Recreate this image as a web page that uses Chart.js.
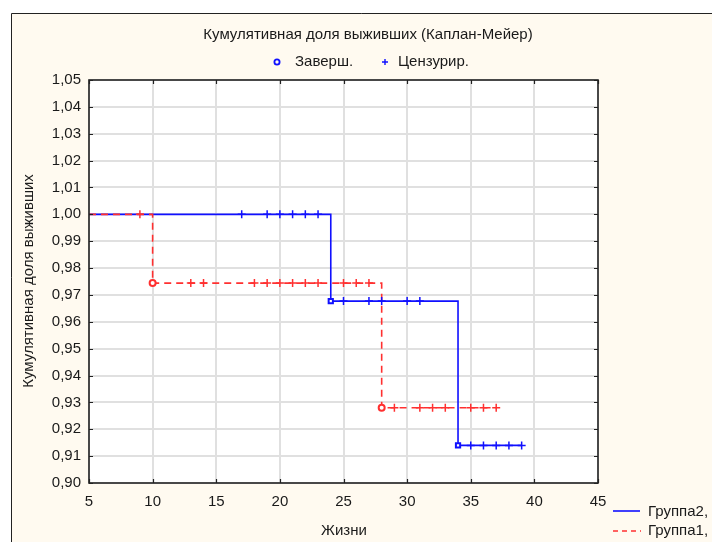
<!DOCTYPE html>
<html>
<head>
<meta charset="utf-8">
<script src="https://cdn.jsdelivr.net/npm/chart.js@4"></script>
<style>
  html, body { margin: 0; padding: 0; background: #ffffff; }
  #wrap { width: 712px; height: 542px; position: relative; }
</style>
</head>
<body>
<div id="wrap"><canvas id="c" width="712" height="542"></canvas></div>
<script>
// ---- data ----
const xTicks = [5, 10, 15, 20, 25, 30, 35, 40, 45];
const yTicks = [0.90, 0.91, 0.92, 0.93, 0.94, 0.95, 0.96, 0.97, 0.98, 0.99, 1.00, 1.01, 1.02, 1.03, 1.04, 1.05];

// Group 2 (blue, solid)
const g2StepTimes = [5, 24, 34, 39];
const g2StepSurv  = [1.0, 0.9677, 0.914, 0.914];
const g2EventTimes = [24, 34];
const g2EventSurv  = [0.9677, 0.914];
const g2CensTimes = [17, 19, 20, 21, 22, 23, 25, 27, 28, 30, 31, 35, 36, 37, 38, 39];
const g2CensSurv  = [1.0, 1.0, 1.0, 1.0, 1.0, 1.0, 0.9677, 0.9677, 0.9677, 0.9677, 0.9677, 0.914, 0.914, 0.914, 0.914, 0.914];

// Group 1 (red, dashed)
const g1StepTimes = [5, 10, 28, 37];
const g1StepSurv  = [1.0, 0.9744, 0.928, 0.928];
const g1EventTimes = [10, 28];
const g1EventSurv  = [0.9744, 0.928];
const g1CensTimes = [9, 13, 14, 18, 19, 20, 21, 22, 23, 25, 26, 27, 29, 31, 32, 33, 35, 36, 37];
const g1CensSurv  = [1.0, 0.9744, 0.9744, 0.9744, 0.9744, 0.9744, 0.9744, 0.9744, 0.9744, 0.9744, 0.9744, 0.9744, 0.928, 0.928, 0.928, 0.928, 0.928, 0.928, 0.928];

const titleText = 'Кумулятивная доля выживших (Каплан-Мейер)';
const legendEvent = 'Заверш.';
const legendCens = 'Цензурир.';
const xTitle = 'Жизни';
const yTitle = 'Кумулятивная доля выживших';
const group2Name = 'Группа2,';
const group1Name = 'Группа1,';

const BLUE = '#1010ff';
const RED = '#ff3030';
const FONT = '"Liberation Sans", Arial, sans-serif';

const pts = (xs, ys) => xs.map((x, i) => ({ x: x, y: ys[i] }));

const decor = {
  id: 'decor',
  beforeDraw(chart) {
    const ctx = chart.ctx, a = chart.chartArea;
    ctx.save();
    ctx.fillStyle = '#ffffff';
    ctx.fillRect(0, 0, chart.width, chart.height);
    ctx.fillStyle = '#fffaf0';
    ctx.fillRect(11, 13, chart.width - 11, chart.height - 13);
    ctx.strokeStyle = '#222';
    ctx.lineWidth = 1;
    ctx.beginPath();
    ctx.moveTo(11.5, chart.height);
    ctx.lineTo(11.5, 13.5);
    ctx.lineTo(chart.width, 13.5);
    ctx.stroke();
    ctx.fillStyle = '#ffffff';
    ctx.fillRect(a.left, a.top, a.right - a.left, a.bottom - a.top);
    ctx.restore();
  },
  afterDatasetsDraw(chart) {
    const ctx = chart.ctx, a = chart.chartArea;
    const xs = chart.scales.x, ys = chart.scales.y;
    ctx.save();
    // frame
    ctx.strokeStyle = '#222';
    ctx.lineWidth = 1.6;
    ctx.strokeRect(a.left, a.top, a.right - a.left, a.bottom - a.top);
    // inner ticks
    ctx.lineWidth = 1.2;
    ctx.beginPath();
    yTicks.forEach(v => {
      const y = Math.round(ys.getPixelForValue(v)) + 0.5;
      ctx.moveTo(a.left, y); ctx.lineTo(a.left + 4, y);
      ctx.moveTo(a.right, y); ctx.lineTo(a.right - 4, y);
    });
    xTicks.forEach(v => {
      const x = Math.round(xs.getPixelForValue(v)) + 0.5;
      ctx.moveTo(x, a.bottom); ctx.lineTo(x, a.bottom - 4);
      ctx.moveTo(x, a.top); ctx.lineTo(x, a.top + 4);
    });
    ctx.stroke();

    // title
    ctx.fillStyle = '#1a1a1a';
    ctx.font = '15px ' + FONT;
    ctx.textAlign = 'center';
    ctx.textBaseline = 'middle';
    ctx.fillText(titleText, 368, 35);

    // top legend
    ctx.strokeStyle = BLUE;
    ctx.lineWidth = 1.8;
    ctx.beginPath();
    ctx.arc(277, 62, 2.6, 0, Math.PI * 2);
    ctx.stroke();
    ctx.lineWidth = 1.4;
    ctx.beginPath();
    ctx.moveTo(382, 62); ctx.lineTo(388, 62);
    ctx.moveTo(385, 59); ctx.lineTo(385, 65);
    ctx.stroke();
    ctx.textAlign = 'left';
    ctx.fillText(legendEvent, 295, 62);
    ctx.fillText(legendCens, 398, 62);

    // axis titles
    ctx.textAlign = 'center';
    ctx.fillText(xTitle, 344, 531);
    ctx.save();
    ctx.translate(29, 281);
    ctx.rotate(-Math.PI / 2);
    ctx.font = '15px ' + FONT;
    ctx.fillText(yTitle, 0, 0);
    ctx.restore();

    // bottom-right legend
    ctx.font = '15px ' + FONT;
    ctx.textAlign = 'left';
    ctx.strokeStyle = BLUE;
    ctx.lineWidth = 1.6;
    ctx.beginPath();
    ctx.moveTo(613, 511); ctx.lineTo(640, 511);
    ctx.stroke();
    ctx.fillText(group2Name, 648, 512);
    ctx.strokeStyle = RED;
    ctx.setLineDash([5, 4]);
    ctx.beginPath();
    ctx.moveTo(613, 531); ctx.lineTo(641, 531);
    ctx.stroke();
    ctx.setLineDash([]);
    ctx.fillText(group1Name, 648, 531);
    ctx.restore();
  }
};

new Chart(document.getElementById('c'), {
  type: 'scatter',
  data: {
    datasets: [
      { label: 'g2line', data: pts(g2StepTimes, g2StepSurv), showLine: true, stepped: true,
        borderColor: BLUE, borderWidth: 1.6, pointRadius: 0, order: 5 },
      { label: 'g1line', data: pts(g1StepTimes, g1StepSurv), showLine: true, stepped: true,
        borderColor: RED, borderWidth: 1.6, borderDash: [7, 5], pointRadius: 0, order: 4 },
      { label: 'g2cens', data: pts(g2CensTimes, g2CensSurv), pointStyle: 'cross', pointRadius: 4,
        borderColor: BLUE, borderWidth: 1.5, order: 3 },
      { label: 'g1cens', data: pts(g1CensTimes, g1CensSurv), pointStyle: 'cross', pointRadius: 4,
        borderColor: RED, borderWidth: 1.5, order: 2 },
      { label: 'g2event', data: pts(g2EventTimes, g2EventSurv), pointStyle: 'rect', pointRadius: 3,
        borderColor: BLUE, backgroundColor: '#ffffff', borderWidth: 2, order: 1 },
      { label: 'g1event', data: pts(g1EventTimes, g1EventSurv), pointStyle: 'circle', pointRadius: 3,
        borderColor: RED, backgroundColor: '#ffffff', borderWidth: 2, order: 0 }
    ]
  },
  options: {
    responsive: false,
    animation: false,
    devicePixelRatio: 1,
    layout: { padding: { left: 0, top: 80, right: 114, bottom: 0 } },
    plugins: { legend: { display: false }, title: { display: false }, tooltip: { enabled: false } },
    scales: {
      x: {
        type: 'linear', min: 5, max: 45,
        afterBuildTicks: s => { s.ticks = xTicks.map(v => ({ value: v })); },
        afterFit: s => { s.height = 59; },
        ticks: { font: { family: FONT, size: 15 }, color: '#1a1a1a', padding: 10, maxRotation: 0,
          callback: v => String(v) },
        grid: { color: '#e0e0e0', lineWidth: 2, drawTicks: false },
        border: { display: false }
      },
      y: {
        type: 'linear', min: 0.90, max: 1.05,
        afterBuildTicks: s => { s.ticks = yTicks.map(v => ({ value: v })); },
        afterFit: s => { s.width = 89; },
        ticks: { font: { family: FONT, size: 15 }, color: '#1a1a1a', padding: 8,
          callback: v => v.toFixed(2).replace('.', ',') },
        grid: { color: '#e0e0e0', lineWidth: 2, drawTicks: false },
        border: { display: false }
      }
    }
  },
  plugins: [decor]
});
</script>
</body>
</html>
